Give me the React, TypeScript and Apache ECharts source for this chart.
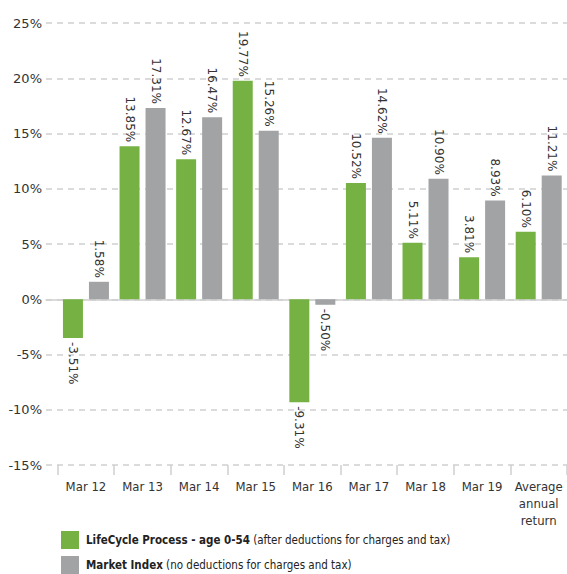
import React, { useEffect, useRef } from "react";
import * as echarts from "echarts";

const categories = ["Mar 12", "Mar 13", "Mar 14", "Mar 15", "Mar 16", "Mar 17", "Mar 18", "Mar 19", "Average\nannual\nreturn"];
const seriesNames = ["LifeCycle Process - age 0-54", "Market Index"];
const seriesNotes = ["(after deductions for charges and tax)", "(no deductions for charges and tax)"];
const lifeCycleValues = [-3.51, 13.85, 12.67, 19.77, -9.31, 10.52, 5.11, 3.81, 6.1];
const marketIndexValues = [1.58, 17.31, 16.47, 15.26, -0.5, 14.62, 10.9, 8.93, 11.21];
const seriesColors = ["#76b243", "#a2a3a5"];
const yMin = -15;
const yMax = 25;
const yInterval = 5;

const labelFont = "'DejaVu Sans', sans-serif";
const condFont = "'DejaVu Sans Condensed', sans-serif";

function buildData(values: number[]) {
  return values.map((v) => ({
    value: v,
    label: {
      position: v < 0 ? "bottom" : "top",
      align: v < 0 ? "left" : "right",
      verticalAlign: "middle",
    },
  }));
}

function buildLegend(i: number, top: number) {
  return {
    orient: "horizontal",
    left: 61,
    top,
    padding: 0,
    itemWidth: 18,
    itemHeight: 18,
    icon: "rect",
    data: [seriesNames[i]],
    formatter: (name: string) => "{b|" + name + "} {n|" + seriesNotes[i] + "}",
    textStyle: {
      fontFamily: condFont,
      fontSize: 11.5,
      color: "#222",
      padding: [0, 0, 0, 2],
      rich: {
        b: { fontFamily: condFont, fontSize: 11.5, fontWeight: "bold", color: "#222" },
        n: { fontFamily: condFont, fontSize: 11.5, color: "#222" },
      },
    },
  };
}

export default function App() {
  const ref = useRef<HTMLDivElement>(null);
  useEffect(() => {
    if (!ref.current) return;
    const chart = echarts.init(ref.current, null, { renderer: "svg" });
    const top = 23;
    const bottom = 109;
    const option: any = {
      animation: false,
      backgroundColor: "#ffffff",
      grid: [
        { left: 46, right: -10, top, bottom },
        { left: 57.65, right: -6.4, top, bottom },
      ],
      legend: [buildLegend(0, 531), buildLegend(1, 556)],
      xAxis: [
        {
          gridIndex: 0,
          type: "category",
          data: categories,
          axisLabel: { show: false },
          axisTick: { show: false },
          axisLine: { show: true, onZero: true, lineStyle: { color: "#cfcfcf", width: 1.5 } },
        },
        {
          gridIndex: 1,
          type: "category",
          data: categories,
          axisLine: { show: false, onZero: false },
          axisTick: { show: true, length: 10, lineStyle: { color: "#cfcfcf", width: 1.5 } },
          axisLabel: {
            margin: 13,
            fontFamily: condFont,
            fontSize: 13,
            lineHeight: 17,
            color: "#333",
            interval: 0,
          },
        },
      ],
      yAxis: [
        {
          gridIndex: 0,
          type: "value",
          min: yMin,
          max: yMax,
          interval: yInterval,
          axisLine: { show: false },
          axisTick: { show: false },
          axisLabel: {
            margin: 4,
            formatter: "{value}%",
            fontFamily: labelFont,
            fontSize: 13,
            color: "#333",
          },
          splitLine: { show: true, lineStyle: { color: "#cfcfcf", type: [6, 5], width: 1.5 } },
        },
        {
          gridIndex: 1,
          type: "value",
          min: yMin,
          max: yMax,
          interval: yInterval,
          show: false,
          splitLine: { show: false },
        },
      ],
      series: [lifeCycleValues, marketIndexValues].map((vals, i) => ({
        name: seriesNames[i],
        type: "bar",
        xAxisIndex: 1,
        yAxisIndex: 1,
        data: buildData(vals),
        barWidth: 20,
        barGap: "30%",
        itemStyle: { color: seriesColors[i] },
        label: {
          show: true,
          rotate: -90,
          distance: 4,
          fontFamily: labelFont,
          fontSize: 12,
          color: "#333",
          formatter: (p: any) => p.value.toFixed(2) + "%",
        },
      })),
    };
    chart.setOption(option);
    return () => chart.dispose();
  }, []);
  return (
    <div
      ref={ref}
      style={{ position: "fixed", left: 0, top: 0, width: 567, height: 574, background: "#fff" }}
    />
  );
}
